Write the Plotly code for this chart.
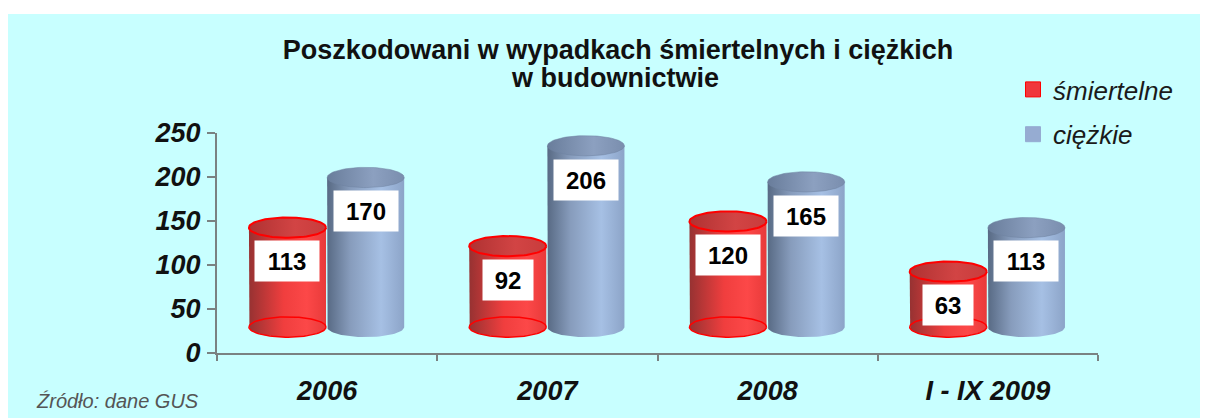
import numpy as np
import plotly.graph_objects as go

# ---------------- data ----------------
categories = ["2006", "2007", "2008", "I - IX 2009"]
smiertelne = [113, 92, 120, 63]
ciezkie = [170, 206, 165, 113]
series_names = ["śmiertelne", "ciężkie"]
y_ticks = [0, 50, 100, 150, 200, 250]
title_line1 = "Poszkodowani w wypadkach śmiertelnych i ciężkich"
title_line2 = "w budownictwie"
source_note = "Źródło: dane GUS"

# ---------------- style ----------------
FONT = "Liberation Sans"
BG = "#C8FFFF"
AXIS = "#7a8282"
BASE = 29.5      # 3D floor offset (data units)
RY = 11.5        # ellipse half-height (data units)
W = 0.35         # cylinder width (category units)
OFFSETS = [-0.355, 0.0]

# figure sits inside the page's 8px body margin
FW, FH = 1200, 410
ML, MR, MT, MB = 209, 110, 125, 65
PW, PH = FW - ML - MR, FH - MT - MB


def px(xf):
    return (xf - ML) / PW


def py(yf):
    return (FH - MB - yf) / PH


styles = [
    dict(body=[[0, "rgb(150,50,50)"], [0.45, "rgb(240,62,62)"], [0.75, "rgb(252,72,72)"], [1, "rgb(232,58,58)"]],
         top=[[0, "rgb(175,50,50)"], [0.6, "rgb(210,68,68)"], [1, "rgb(200,60,60)"]],
         edge="rgb(255,0,0)", legend="rgb(240,55,60)"),
    dict(body=[[0, "rgb(88,106,132)"], [0.3, "rgb(135,156,188)"], [0.7, "rgb(166,192,228)"], [1, "rgb(140,164,200)"]],
         top=[[0, "rgb(105,125,155)"], [0.6, "rgb(140,160,192)"], [1, "rgb(122,142,174)"]],
         edge=None, legend="rgb(150,172,210)"),
]

fig = go.Figure()
t = np.linspace(0, np.pi, 40)
tt = np.linspace(0, 2 * np.pi, 90)

values = [smiertelne, ciezkie]
annotations = []
for s, vals in enumerate(values):
    st = styles[s]
    for j, v in enumerate(vals):
        xl = j + OFFSETS[s]
        xr = xl + W
        xc = xl + W / 2
        rx = W / 2
        top = v + BASE
        # body
        bx = [xl] + list(xc - rx * np.cos(t)) + [xr, xl]
        by = [top] + list(BASE - RY * np.sin(t)) + [top, top]
        fig.add_trace(go.Scatter(x=bx, y=by, mode="lines", fill="toself",
                                 line=dict(width=0, color="rgba(0,0,0,0)"),
                                 fillgradient=dict(type="horizontal", colorscale=st["body"]),
                                 hoverinfo="skip", showlegend=False))
        if st["edge"]:
            # transparent-looking bottom ellipse outline
            ex = list(xc + rx * np.cos(tt))
            ey = list(BASE + RY * np.sin(tt))
            fig.add_trace(go.Scatter(x=ex, y=ey, mode="lines",
                                     line=dict(width=1.5, color=st["edge"]),
                                     hoverinfo="skip", showlegend=False))
        # top ellipse
        tx = list(xc + rx * np.cos(tt))
        ty = list(top + RY * np.sin(tt))
        fig.add_trace(go.Scatter(x=tx, y=ty, mode="lines", fill="toself",
                                 line=dict(width=2 if st["edge"] else 0.5,
                                           color=st["edge"] or "rgb(110,130,160)"),
                                 fillgradient=dict(type="horizontal", colorscale=st["top"]),
                                 hoverinfo="skip", showlegend=False))
        txt = str(v)
        annotations.append(dict(x=xc, y=v - 9, xref="x", yref="y", text=txt, showarrow=False,
                                font=dict(family=FONT, size=24, color="black", weight="bold"),
                                bgcolor="white", width=14 * len(txt) + 20, height=38,
                                borderpad=1, align="center"))

# legend entries
for s, name in enumerate(series_names):
    fig.add_trace(go.Scatter(x=[None], y=[None], mode="markers", name=name,
                             legendgroup=name,
                             marker=dict(symbol="square", size=15, color=styles[s]["legend"],
                                         line=dict(width=1, color=styles[s]["edge"] or styles[s]["legend"]))))

annotations.append(dict(x=px(26), y=py(393), xref="paper", yref="paper", text=source_note,
                        showarrow=False, xanchor="left", yanchor="middle",
                        font=dict(family=FONT, size=20, color="#555555", style="italic")))
annotations.append(dict(x=px(607), y=py(70.5), xref="paper", yref="paper", text=title_line2,
                        showarrow=False, xanchor="center", yanchor="middle",
                        font=dict(family=FONT, size=27, color="#111111", weight="bold")))

fig.update_layout(
    width=FW, height=FH,
    margin=dict(l=ML, r=MR, t=MT, b=MB, autoexpand=False),
    paper_bgcolor="white",
    plot_bgcolor="rgba(0,0,0,0)",
    title=dict(text=title_line1, x=610 / FW, xanchor="center",
               xref="container", yref="container", y=1 - 41.5 / FH, yanchor="middle",
               font=dict(family=FONT, size=27, color="#111111", weight="bold")),
    showlegend=True,
    legend=dict(x=px(1005), y=py(58), xanchor="left", yanchor="top", bgcolor="rgba(0,0,0,0)",
                font=dict(family=FONT, size=26, color="#1a1a1a", style="italic"),
                traceorder="grouped", tracegroupgap=8, itemsizing="trace"),
    xaxis=dict(range=[-0.5, 3.5], tickvals=[0, 1, 2, 3], ticktext=categories,
               ticks="", showgrid=False, zeroline=False, showline=True,
               linecolor=AXIS, linewidth=2, ticklabelstandoff=13,
               tickfont=dict(family=FONT, size=27, color="#111111", weight="bold", style="italic"),
               minor=dict(tickvals=[-0.5, 0.5, 1.5, 2.5, 3.5], ticks="outside", ticklen=6,
                          tickwidth=2, tickcolor=AXIS, showgrid=False),
               fixedrange=True),
    yaxis=dict(range=[0, 250], tickvals=y_ticks, ticks="outside", ticklen=8, tickwidth=2,
               tickcolor=AXIS, showgrid=False, zeroline=False, showline=True,
               linecolor=AXIS, linewidth=2, ticklabelstandoff=1,
               tickfont=dict(family=FONT, size=27, color="#111111", weight="bold", style="italic"),
               fixedrange=True),
    shapes=[dict(type="rect", xref="paper", yref="paper", layer="below",
                 x0=px(0), x1=px(FW + 2), y0=py(FH + 2), y1=py(6),
                 fillcolor=BG, line=dict(width=0))],
    annotations=annotations,
)

fig.write_html("out.html")
